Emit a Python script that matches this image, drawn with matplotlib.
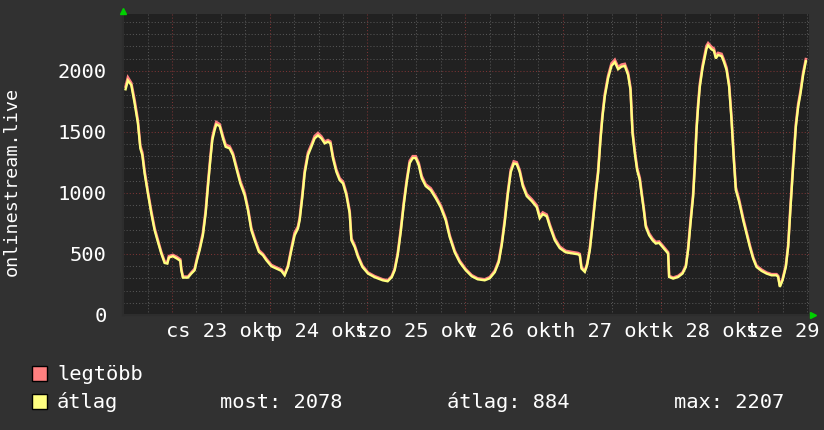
import matplotlib
matplotlib.use("Agg")
import matplotlib.pyplot as plt
from matplotlib.patches import Rectangle
from matplotlib import transforms

# ---- data (hours since 22 okt 00:00) ----
hours = [12.61, 13.18, 14.01, 14.82, 15.64, 16.23, 16.72, 17.28, 18.09, 18.93,
         19.74, 20.55, 21.38, 22.19, 22.86, 23.25, 24.23, 25.22, 26.05, 26.30,
         26.69, 27.92, 28.75, 29.56, 30.13, 30.79, 31.60, 32.27, 32.83, 33.42,
         33.91, 34.48, 34.89, 35.71, 36.52, 37.18, 38.16, 38.97, 39.81, 40.79,
         41.85, 42.66, 43.49, 44.30, 45.36, 46.34, 47.18, 48.41, 49.63, 50.86,
         51.67, 52.48, 53.32, 54.13, 54.94, 55.36, 56.02, 56.59, 57.40, 58.23,
         59.04, 59.85, 60.69, 61.50, 62.31, 62.90, 63.54, 64.37, 65.18, 66.00,
         66.83, 67.64, 68.06, 68.87, 69.68, 70.76, 72.14,
         73.78, 75.75, 76.97, 77.96, 78.69, 79.43, 80.17, 80.91, 81.64, 82.38,
         83.12, 83.85, 84.59, 85.33, 86.31, 87.54, 88.77, 89.99, 91.22, 92.20,
         93.43, 94.66, 96.14, 97.61, 99.08, 100.80, 102.03, 103.26, 104.24, 104.98,
         105.72, 106.45, 107.19, 107.93, 108.66, 109.40, 110.14, 111.12, 112.35, 113.58,
         114.31, 115.05, 116.03, 116.77, 118.00, 119.23, 120.70, 122.17, 123.65,
         124.14, 124.56, 125.37, 125.93, 126.60, 127.41, 128.07, 128.64, 129.22, 129.72,
         130.28, 131.09, 131.93, 132.74, 133.55, 134.38, 135.19, 136.00, 136.59, 137.09,
         137.65, 138.22, 138.88, 139.30, 139.86, 140.35, 141.16, 142.00, 142.81, 143.62,
         144.45, 145.27, 145.83, 146.08, 147.06, 148.29, 149.37, 150.18, 150.74, 151.33,
         151.97, 152.39, 152.81, 153.20, 153.62, 154.28, 154.85, 155.26, 155.66, 156.49,
         157.06, 157.55, 158.11, 158.95, 159.51, 160.18, 160.81, 161.40, 161.97, 162.46,
         163.27, 164.26, 165.09, 165.90, 166.71, 167.54, 168.77, 170.00, 171.23, 172.46,
         172.85, 173.27, 173.93, 174.74, 175.31, 175.90, 176.53, 177.20, 177.77, 178.35,
         178.99, 179.66]

atlag = [1848, 1920, 1883, 1735, 1569, 1364, 1309, 1159, 995, 831,
         694, 598, 503, 426, 421, 470, 481, 462, 443, 366,
         306, 306, 339, 366, 448, 530, 653, 831, 1049, 1268,
         1432, 1514, 1560, 1547, 1446, 1377, 1364, 1309, 1200, 1077,
         981, 858, 694, 612, 516, 489, 448, 399, 380, 361,
         325, 393, 530, 653, 708, 776, 967, 1159, 1309, 1377,
         1446, 1470, 1446, 1405, 1418, 1405, 1282, 1172, 1104, 1077,
         981, 831, 612, 557, 475, 393, 339,
         309, 284, 276, 309, 366, 489, 678, 899, 1086, 1243,
         1285, 1285, 1227, 1120, 1055, 1022, 956, 882, 776, 637,
         513, 432, 366, 317, 292, 284, 300, 350, 432, 571,
         760, 981, 1169, 1240, 1235, 1169, 1055, 973, 932, 882,
         792, 825, 808, 727, 612, 547, 513, 505, 497,
         489, 380, 353, 407, 530, 776, 995, 1159, 1432, 1623,
         1787, 1938, 2040, 2070, 2012, 2033, 2039, 1965, 1842, 1487,
         1323, 1186, 1104, 995, 858, 721, 653, 612, 585, 590,
         557, 525, 503, 311, 298, 311, 339, 393, 530, 749,
         967, 1213, 1514, 1705, 1869, 2020, 2115, 2180, 2207, 2175,
         2164, 2101, 2129, 2120, 2074, 2006, 1869, 1596, 1268, 1022,
         926, 776, 667, 557, 462, 393, 361, 339, 325, 325,
         311, 230, 284, 393, 557, 885, 1213, 1541, 1705, 1815,
         1965, 2078]

legtobb = [1870, 1945, 1900, 1760, 1590, 1385, 1330, 1180, 1010, 850,
           710, 612, 515, 440, 430, 482, 492, 475, 455, 378,
           315, 314, 348, 378, 462, 548, 672, 852, 1075, 1290,
           1455, 1535, 1580, 1562, 1465, 1395, 1380, 1325, 1218, 1095,
           1000, 875, 712, 628, 530, 500, 460, 410, 390, 372,
           334, 405, 548, 675, 725, 795, 990, 1180, 1330, 1395,
           1465, 1490, 1462, 1420, 1432, 1420, 1300, 1190, 1120, 1092,
           998, 850, 628, 570, 488, 404, 348,
           318, 292, 284, 318, 378, 505, 698, 920, 1105, 1262,
           1300, 1300, 1245, 1138, 1070, 1038, 972, 898, 792, 652,
           526, 444, 376, 326, 300, 292, 310, 362, 446, 590,
           782, 1002, 1190, 1258, 1250, 1185, 1072, 990, 948, 898,
           810, 840, 822, 742, 628, 560, 525, 516, 508,
           500, 392, 362, 418, 545, 798, 1018, 1180, 1455, 1645,
           1808, 1958, 2060, 2090, 2030, 2050, 2056, 1984, 1862, 1510,
           1345, 1205, 1122, 1012, 875, 736, 668, 626, 598, 602,
           570, 536, 514, 320, 306, 320, 348, 404, 548, 772,
           990, 1238, 1538, 1728, 1890, 2042, 2136, 2204, 2226, 2195,
           2182, 2120, 2146, 2138, 2092, 2025, 1890, 1620, 1292, 1045,
           944, 794, 682, 572, 474, 404, 372, 348, 334, 334,
           320, 240, 294, 406, 575, 908, 1238, 1562, 1728, 1836,
           1985, 2095]

x_tick_hours = [36, 60, 84, 108, 132, 156, 180]
x_tick_labels = ["cs 23 okt", "p 24 okt", "szo 25 okt", "v 26 okt",
                 "h 27 okt", "k 28 okt", "sze 29 okt"]
y_ticks = [0, 500, 1000, 1500, 2000]
y_label = "onlinestream.live"
series_names = ["legtöbb", "átlag"]
stats = ["most: 2078", "átlag: 884", "max: 2207"]

# ---- style ----
FIG_BG = "#313131"
AX_BG = "#212121"
MINOR_C = "#555555"
MAJOR_C = "#7a3434"
MAX_C = "#ff8080"
AVG_C = "#ffff80"
TXT_C = "#ffffff"
FONT = "DejaVu Sans Mono"
W, H = 824, 430

plt.rcParams["font.family"] = [FONT, "DejaVu Sans"]

fig = plt.figure(figsize=(W / 100, H / 100), dpi=100, facecolor=FIG_BG)
L, R, T, B = 123.5, 809.3, 14.3, 315.0
ax = fig.add_axes([L / W, (H - B) / H, (R - L) / W, (B - T) / H])
ax.set_facecolor(AX_BG)

x0, x1 = 12.1, 180.5
y0, y1 = 0, 2462
ax.set_xlim(x0, x1)
ax.set_ylim(y0, y1)

dot = (0, (1, 2))
# grid: minor every 6 h / 100, major every 24 h / 500
for h in range(0, 186, 6):
    if x0 < h < x1 and h % 24 != 0:
        ax.axvline(h, color=MINOR_C, lw=0.75, ls=dot, zorder=1)
for v in range(100, 2500, 100):
    if v % 500 != 0:
        ax.axhline(v, color=MINOR_C, lw=0.75, ls=dot, zorder=1)
for h in range(24, 186, 24):
    if x0 < h < x1:
        ax.axvline(h, color=MAJOR_C, lw=0.75, ls=dot, zorder=1.5)
for v in range(500, 2500, 500):
    ax.axhline(v, color=MAJOR_C, lw=0.75, ls=dot, zorder=1.5)

ax.plot(hours, legtobb, color=MAX_C, lw=1.9, zorder=3, solid_joinstyle="miter")
ax.plot(hours, atlag, color=AVG_C, lw=1.7, zorder=4, solid_joinstyle="miter")

ax.set_xticks(x_tick_hours)
ax.set_xticklabels(x_tick_labels)
ax.set_yticks(y_ticks)
ax.set_yticklabels([str(v) for v in y_ticks])
ax.tick_params(axis="both", length=0, colors=TXT_C, labelsize=14.7)
ax.tick_params(axis="y", pad=12)
ax.tick_params(axis="x", pad=5)
for lab in ax.get_xticklabels() + ax.get_yticklabels():
    lab.set_fontfamily(FONT)

for s in ["top", "right"]:
    ax.spines[s].set_visible(False)
for s in ["left", "bottom"]:
    ax.spines[s].set_color("#2d2d2d")
    ax.spines[s].set_linewidth(1.5)

# green axis arrows
tr_up = transforms.offset_copy(ax.transAxes, fig=fig, x=0, y=3.5, units="dots")
ax.plot([0], [1], marker="^", ms=5, color="#00d000", transform=tr_up,
        clip_on=False, zorder=6)
tr_rt = transforms.offset_copy(ax.transAxes, fig=fig, x=4.0, y=0, units="dots")
ax.plot([1], [0], marker=">", ms=5, color="#00d000", transform=tr_rt,
        clip_on=False, zorder=6)

# y label
fig.text(12 / W, 1 - 181 / H, y_label, rotation=90, ha="center", va="center",
         color=TXT_C, fontsize=13.2, family=FONT)

# legend
def px(x, y):
    return x / W, 1 - y / H

for i, (name, col) in enumerate(zip(series_names, [MAX_C, AVG_C])):
    top = 366 + i * 28
    fig.add_artist(Rectangle(px(32, top + 15), 15 / W, 15 / H, transform=fig.transFigure,
                             facecolor=col, edgecolor="black", lw=1))
    fig.text(*px(57, top + 14), name, color=TXT_C, fontsize=14.7, family=FONT,
             ha="left", va="baseline")

for xs, s in zip([220, 447, 674], stats):
    fig.text(*px(xs, 408), s, color=TXT_C, fontsize=14.7, family=FONT,
             ha="left", va="baseline")

fig.savefig("out.png", dpi=100, facecolor=FIG_BG)
